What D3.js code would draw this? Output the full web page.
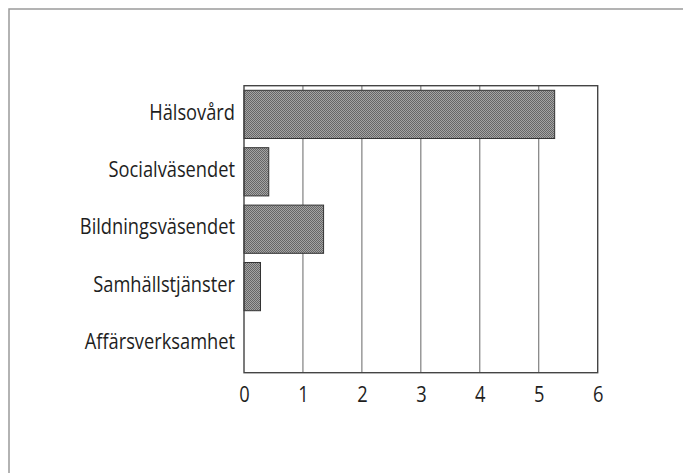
<!DOCTYPE html>
<html><head><meta charset="utf-8">
<script src="https://cdn.jsdelivr.net/npm/d3@7"></script>
<style>
html,body{margin:0;padding:0;background:#fff;}
svg{display:block;}
text{font-family:"Open Sans",sans-serif;fill:#1e1e1e;}
</style></head>
<body>
<svg id="c" width="683" height="473"></svg>
<script>
const categories = ["Hälsovård","Socialväsendet","Bildningsväsendet","Samhällstjänster","Affärsverksamhet"];
const values = [5.27, 0.42, 1.35, 0.28, 0];
const tickValues = [0,1,2,3,4,5,6];

const svg = d3.select("#c");
const W = 683, H = 473;
const m = {left:244, right:W-597.7, top:85.7, bottom:H-372.7};
const sx = 0.87;
const fs = 21;

// outer frame (open on right/bottom)
svg.append("rect").attr("x",9).attr("y",9).attr("width",W).attr("height",H)
  .attr("fill","none").attr("stroke","#9a9a9a").attr("stroke-width",1.5);

const defs = svg.append("defs");
const pat = defs.append("pattern").attr("id","dots").attr("patternUnits","userSpaceOnUse")
  .attr("width",2).attr("height",2);
pat.append("rect").attr("width",2).attr("height",2).attr("fill","#a4a4a4");
pat.append("rect").attr("x",0).attr("y",0).attr("width",1).attr("height",1).attr("fill","#666");
pat.append("rect").attr("x",1).attr("y",1).attr("width",1).attr("height",1).attr("fill","#666");

const x = d3.scaleLinear().domain([0,6]).range([m.left, W-m.right]);
const y = d3.scaleBand().domain(categories).range([m.top, H-m.bottom]).paddingInner(0.16).paddingOuter(0.08);

// gridlines
svg.append("g").selectAll("line").data(tickValues.slice(1,-1)).join("line")
  .attr("x1",d=>x(d)).attr("x2",d=>x(d)).attr("y1",m.top).attr("y2",H-m.bottom)
  .attr("stroke","#666").attr("stroke-width",1);

// bars
svg.append("g").selectAll("rect").data(categories.map((c,i)=>({c,v:values[i]})).filter(d=>d.v>0)).join("rect")
  .attr("x",x(0)).attr("y",d=>y(d.c)).attr("width",d=>x(d.v)-x(0)).attr("height",y.bandwidth())
  .attr("fill","url(#dots)").attr("stroke","#333").attr("stroke-width",1);

// plot frame
svg.append("rect").attr("x",m.left).attr("y",m.top).attr("width",W-m.right-m.left).attr("height",H-m.bottom-m.top)
  .attr("fill","none").attr("stroke","#444").attr("stroke-width",1.4);

// x axis labels
const xa = svg.append("g").attr("transform",`translate(0,${H-m.bottom})`)
  .call(d3.axisBottom(x).tickValues(tickValues).tickFormat(d3.format("d")).tickSize(0).tickPadding(15));
xa.select(".domain").remove();
xa.attr("font-family",null).attr("font-size",null);
xa.selectAll("text").attr("font-size",fs).attr("dy","0.68em").attr("transform",`scale(${sx},1)`);

// y axis labels
const ya = svg.append("g").attr("transform",`translate(${m.left},0)`)
  .call(d3.axisLeft(y).tickSize(0).tickPadding(9));
ya.select(".domain").remove();
ya.attr("font-family",null).attr("font-size",null);
ya.selectAll("text").attr("font-size",fs).attr("dy","0.25em")
  .attr("x",-9/sx).attr("transform",`scale(${sx},1)`);
</script>
</body></html>
